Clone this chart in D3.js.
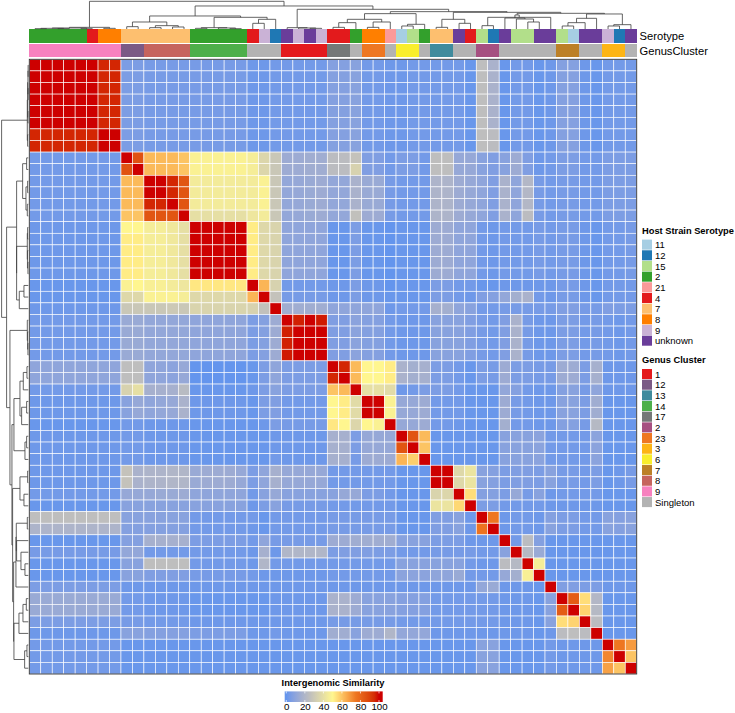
<!DOCTYPE html>
<html>
<head>
<meta charset="utf-8">
<script src="https://cdn.jsdelivr.net/npm/d3@7/dist/d3.min.js"></script>
<style>
html,body{margin:0;padding:0;background:#fff;}
text{font-family:"Liberation Sans",Arial,sans-serif;fill:#000;}
</style>
</head>
<body>
<svg id="chart" width="735" height="713"></svg>
<script>
// Host serotype and genus cluster of each phage, in dendrogram order
const serotypeOrder = ["11","12","15","2","21","4","7","8","9","unknown"];
const serotypeColors = ["#A6CEE3","#1F78B4","#B2DF8A","#33A02C","#FB9A99","#E31A1C","#FDBF6F","#FF7F00","#CAB2D6","#6A3D9A"];
const genusOrder = ["1","12","13","14","17","2","23","3","6","7","8","9","Singleton"];
const genusColors = ["#E41A1C","#7B5A85","#3F8B9D","#4DAF4A","#757878","#A65081","#EE7722","#FDB515","#F9EE2C","#BC8027","#C6645E","#F781BF","#B3B3B3"];

const serotypes = ["2","2","2","2","2","4","8","8",
  "7","7","7","7","7","7",
  "2","2","2","2","2","4","9","12",
  "unknown","9","unknown","9",
  "4","4","2","8","8","21","11","15","2",
  "7","7","unknown","4","15","12","unknown","15","15","unknown","unknown",
  "15","11","unknown","unknown","9","12","unknown"];
const genusClusters = ["9","9","9","9","9","9","9","9",
  "12","12","8","8","8","8",
  "14","14","14","14","14","Singleton","Singleton","Singleton",
  "1","1","1","1",
  "17","17","Singleton","23","23","Singleton","6","6","Singleton",
  "13","13","Singleton","Singleton","2","2","Singleton","Singleton","Singleton","Singleton","Singleton",
  "7","7","Singleton","Singleton","3","3","Singleton"];

// Pairwise intergenomic similarity (percent), one row per phage
const similarity = [
[100,100,100,100,100,100,96,96, 5,5, 4,4,4,4, 4,4,4,4,4, 2,2,3, 3,3,3,3, 7,7,8, 3,3,2, 2,3,3, 3,3, 3,1, 25,18, 1,3,3, 1,2, 7,7,2,1, 3,3,3],
[100,100,100,100,100,100,96,96, 5,5, 4,4,4,4, 4,4,4,4,4, 2,2,3, 3,3,3,3, 7,7,8, 3,3,2, 2,3,3, 3,3, 3,1, 25,18, 1,3,3, 1,2, 7,7,2,1, 3,3,3],
[100,100,100,100,100,100,96,96, 5,5, 4,4,4,4, 4,4,4,4,4, 2,2,3, 3,3,3,3, 7,7,8, 3,3,2, 2,3,3, 3,3, 3,1, 25,18, 1,3,3, 1,2, 7,7,2,1, 3,3,3],
[100,100,100,100,100,100,96,96, 5,5, 4,4,4,4, 4,4,4,4,4, 2,2,3, 3,3,3,3, 7,7,8, 3,3,2, 2,3,3, 3,3, 3,1, 25,18, 1,3,3, 1,2, 7,7,2,1, 3,3,3],
[100,100,100,100,100,100,96,96, 5,5, 4,4,4,4, 4,4,4,4,4, 2,2,3, 3,3,3,3, 7,7,8, 3,3,2, 2,3,3, 3,3, 3,1, 25,18, 1,3,3, 1,2, 7,7,2,1, 3,3,3],
[100,100,100,100,100,100,96,96, 5,5, 4,4,4,4, 4,4,4,4,4, 2,2,3, 3,3,3,3, 7,7,8, 3,3,2, 2,3,3, 3,3, 3,1, 25,18, 1,3,3, 1,2, 7,7,2,1, 3,3,3],
[96,96,96,96,96,96,100,100, 5,5, 4,4,4,4, 4,4,4,4,4, 2,2,3, 3,3,3,3, 7,7,8, 3,3,2, 2,3,3, 3,3, 3,1, 25,24, 1,3,3, 1,2, 7,7,2,1, 3,3,3],
[96,96,96,96,96,96,100,100, 5,5, 4,4,4,4, 4,4,4,4,4, 2,2,3, 3,3,3,3, 7,7,8, 3,3,2, 2,3,3, 3,3, 3,1, 25,24, 1,3,3, 1,2, 7,7,2,1, 3,3,3],
[3,3,3,3,3,3,3,3, 100,86, 62,62,62,60, 48,48,48,48,48, 46,36,29, 14,14,15,15, 24,24,27, 6,6,3, 5,5,3, 25,25, 12,12, 8,6, 8,14,6, 2,3, 5,5,3,3, 5,5,5],
[3,3,3,3,3,3,3,3, 86,100, 62,62,62,60, 48,48,48,48,48, 46,36,29, 14,14,15,15, 24,24,34, 6,6,3, 5,5,3, 25,25, 12,12, 8,6, 8,14,6, 2,3, 5,5,3,3, 5,5,5],
[3,3,3,3,3,3,3,3, 62,62, 100,100,96,85, 45,45,45,45,45, 45,48,29, 11,12,13,14, 11,11,18, 13,13,4, 3,3,3, 19,19, 14,12, 10,6, 18,10,21, 4,3, 4,4,3,3, 5,5,5],
[3,3,3,3,3,3,3,3, 62,62, 100,100,96,85, 45,45,45,45,45, 45,48,29, 11,12,13,14, 11,11,18, 13,13,4, 3,3,3, 19,19, 14,12, 10,6, 18,10,21, 4,3, 4,4,3,3, 5,5,5],
[3,3,3,3,3,3,3,3, 62,62, 96,96,100,85, 45,45,45,45,45, 45,48,29, 11,12,13,14, 11,11,18, 13,13,4, 3,3,3, 19,19, 14,12, 10,6, 18,10,21, 4,3, 4,4,3,3, 5,5,5],
[3,3,3,3,3,3,3,3, 60,60, 85,85,85,100, 40,40,40,40,40, 43,45,29, 11,12,13,14, 11,11,26, 14,14,4, 3,3,3, 19,19, 14,12, 10,6, 18,10,24, 4,3, 4,4,3,3, 5,5,5],
[2,2,2,2,2,2,2,2, 50,50, 46,46,44,40, 100,100,100,100,100, 52,37,35, 10,10,10,10, 1,1,5, 1,1,0, 1,1,1, 14,14, 10,10, 3,2, 3,3,3, 4,3, 4,4,2,1, 3,3,4],
[2,2,2,2,2,2,2,2, 52,52, 46,46,44,40, 100,100,100,100,100, 52,37,35, 10,10,10,10, 1,1,5, 1,1,0, 1,1,1, 14,14, 10,10, 3,2, 3,3,3, 4,3, 4,4,2,1, 3,3,4],
[2,2,2,2,2,2,2,2, 52,52, 46,46,44,40, 100,100,100,100,100, 52,37,35, 10,10,10,10, 1,1,5, 1,1,0, 1,1,1, 14,14, 10,10, 3,2, 3,3,3, 4,3, 4,4,2,1, 3,3,4],
[2,2,2,2,2,2,2,2, 52,52, 46,46,44,40, 100,100,100,100,100, 52,37,35, 10,10,10,10, 1,1,5, 1,1,0, 1,1,1, 14,14, 10,10, 3,2, 3,3,3, 4,3, 4,4,2,1, 3,3,4],
[2,2,2,2,2,2,2,2, 52,52, 46,46,44,40, 100,100,100,100,100, 52,37,35, 10,10,10,10, 1,1,5, 1,1,0, 1,1,1, 14,14, 10,10, 3,2, 3,3,3, 4,3, 4,4,2,1, 3,3,4],
[1,1,1,1,1,1,1,1, 48,50, 47,47,45,43, 53,53,53,53,53, 100,63,34, 3,3,3,3, 2,2,5, 2,2,0, 1,1,1, 5,5, 3,3, 1,1, 2,2,2, 2,2, 4,4,2,1, 3,3,3],
[1,1,1,1,1,1,1,1, 37,37, 48,48,48,46, 37,37,37,37,37, 63,100,27, 4,4,4,4, 2,2,5, 2,2,1, 1,1,1, 5,5, 3,2, 6,7, 11,16,18, 3,2, 4,4,2,1, 3,3,3],
[2,2,2,2,2,2,2,2, 29,29, 29,29,30,29, 35,35,35,35,35, 34,26,100, 15,15,15,15, 10,10,10, 10,10,2, 3,3,3, 17,16, 10,8, 3,3, 4,4,4, 4,4, 6,6,4,4, 6,5,5],
[3,3,3,3,3,3,3,3, 13,13, 11,11,11,11, 10,10,10,10,10, 5,7,14, 100,97,100,98, 6,6,9, 7,7,3, 2,2,2, 8,8, 8,6, 4,3, 6,18,4, 2,2, 5,5,3,4, 3,2,3],
[3,3,3,3,3,3,3,3, 13,13, 11,11,11,11, 10,10,10,10,10, 5,7,14, 97,100,100,100, 6,6,9, 7,7,3, 2,2,2, 8,8, 8,6, 4,3, 6,18,4, 2,2, 5,5,3,4, 3,2,3],
[3,3,3,3,3,3,3,3, 13,13, 11,11,11,11, 10,10,10,10,10, 5,7,14, 97,100,100,100, 6,6,9, 7,7,3, 2,2,2, 8,8, 8,6, 4,3, 6,18,4, 2,2, 5,5,3,4, 3,2,3],
[3,3,3,3,3,3,3,3, 13,13, 11,11,11,11, 10,10,10,10,10, 5,7,14, 98,100,100,100, 6,6,9, 7,7,3, 2,2,2, 8,8, 8,6, 4,3, 6,18,4, 2,2, 5,5,3,4, 3,2,3],
[10,10,10,10,10,10,10,10, 25,25, 10,10,9,12, 0,0,0,0,0, 1,5,10, 5,5,5,5, 100,96,62, 50,50,52, 18,16,17, 5,5, 3,1, 5,4, 14,5,5, 4,4, 14,14,5,17, 2,2,2],
[10,10,10,10,10,10,10,10, 25,25, 10,10,9,12, 0,0,0,0,0, 1,5,10, 5,5,5,5, 96,100,62, 50,50,52, 18,16,17, 5,5, 3,1, 5,4, 14,5,5, 4,4, 14,14,5,17, 2,2,2],
[3,3,3,3,3,3,3,3, 34,40, 17,17,17,23, 1,1,1,1,1, 2,5,8, 5,5,5,5, 60,62,100, 40,40,38, 2,3,5, 5,5, 3,1, 1,1, 11,7,3, 2,2, 7,8,4,10, 2,2,2],
[2,2,2,2,2,2,2,2, 8,12, 10,11,12,18, 2,2,2,2,2, 1,5,6, 3,3,3,3, 50,52,38, 100,100,48, 12,12,14, 3,3, 3,1, 1,1, 14,4,3, 2,2, 8,8,5,15, 1,1,1],
[2,2,2,2,2,2,2,2, 8,12, 10,11,12,18, 2,2,2,2,2, 1,5,6, 3,3,3,3, 50,52,38, 100,100,48, 12,12,14, 3,3, 3,1, 1,1, 14,4,3, 2,2, 8,8,5,15, 1,1,1],
[1,1,1,1,1,1,1,1, 3,3, 2,2,2,2, 1,1,1,1,1, 1,2,5, 4,4,4,4, 53,50,36, 50,48,100, 12,12,14, 3,3, 2,1, 1,1, 16,3,3, 2,2, 7,7,4,22, 1,1,1],
[2,2,2,2,2,2,2,2, 3,3, 2,2,2,2, 1,1,1,1,1, 1,1,2, 2,2,2,2, 17,17,5, 12,12,12, 100,85,62, 1,1, 1,1, 1,1, 8,8,8, 9,3, 3,3,3,9, 1,1,1],
[2,2,2,2,2,2,2,2, 3,3, 2,2,2,2, 1,1,1,1,1, 1,1,2, 2,2,2,2, 17,17,5, 12,12,12, 85,100,60, 1,1, 1,1, 1,1, 8,8,8, 9,3, 3,3,3,9, 1,1,1],
[2,2,2,2,2,2,2,2, 3,3, 2,2,2,2, 1,1,1,1,1, 1,1,3, 2,2,2,2, 17,17,4, 14,14,14, 63,58,100, 1,1, 1,1, 1,1, 8,8,8, 9,3, 3,3,3,9, 1,1,1],
[2,2,2,2,2,2,2,2, 27,18, 19,19,20,20, 13,14,14,14,12, 5,10,17, 12,12,12,12, 3,3,3, 3,3,3, 1,1,1, 100,100, 37,42, 8,7, 5,6,6, 5,8, 4,4,3,5, 1,2,4],
[2,2,2,2,2,2,2,2, 27,18, 19,19,20,20, 13,14,14,14,12, 5,10,17, 12,12,12,12, 3,3,3, 3,3,3, 1,1,1, 100,100, 37,42, 8,7, 5,6,6, 5,8, 4,4,3,5, 1,2,4],
[3,3,3,3,3,3,3,3, 12,12, 12,13,13,14, 10,10,10,10,10, 3,8,12, 8,8,8,8, 8,12,12, 5,5,3, 1,1,1, 35,36, 100,55, 7,7, 5,12,4, 8,2, 3,3,3,3, 1,1,1],
[1,1,1,1,1,1,1,1, 8,8, 8,8,8,8, 8,8,8,8,8, 2,5,8, 4,4,4,4, 3,3,3, 3,3,3, 1,1,1, 42,42, 56,100, 5,5, 3,3,3, 3,2, 2,2,2,2, 1,1,1],
[25,25,25,25,25,25,25,25, 8,8, 8,8,8,8, 3,3,3,3,3, 3,1,3, 3,3,3,3, 4,4,4, 4,4,4, 1,1,1, 6,6, 8,2, 100,75, 2,3,3, 2,7, 5,5,3,3, 8,7,8],
[19,19,19,19,19,19,19,19, 7,7, 7,7,7,7, 3,3,3,3,3, 2,1,3, 3,3,3,3, 4,4,4, 4,4,4, 1,1,1, 6,6, 8,2, 76,100, 2,3,3, 2,8, 5,5,3,3, 8,7,8],
[1,1,1,1,1,1,1,1, 7,7, 17,17,17,17, 5,5,5,5,5, 3,10,4, 4,4,4,4, 14,14,15, 15,15,15, 8,8,8, 5,5, 5,2, 2,2, 100,3,24, 7,1, 1,1,1,1, 1,1,1],
[4,4,4,4,4,4,4,4, 11,11, 3,3,3,3, 3,3,3,3,3, 2,17,2, 20,20,20,20, 5,6,6, 6,5,5, 3,3,3, 4,4, 4,4, 3,3, 8,100,22, 13,1, 1,1,1,1, 1,1,1],
[1,1,1,1,1,1,1,1, 8,8, 25,25,25,25, 3,3,3,3,3, 2,20,3, 3,3,3,3, 3,3,3, 3,3,3, 8,8,8, 8,8, 8,3, 2,2, 24,22,100, 46,1, 1,1,1,1, 1,1,1],
[1,1,1,1,1,1,1,1, 8,8, 6,6,6,6, 4,4,4,4,4, 3,2,2, 2,2,2,2, 3,3,3, 3,3,3, 9,9,9, 10,10, 13,3, 3,3, 12,16,47, 100,1, 1,1,1,1, 1,1,1],
[5,5,5,5,5,5,5,5, 2,2, 2,2,2,2, 2,2,2,2,2, 2,2,2, 2,2,2,2, 2,2,2, 2,2,2, 2,2,2, 2,2, 2,2, 11,13, 2,2,2, 1,100, 6,6,5,5, 2,2,2],
[13,13,13,13,13,13,13,13, 3,3, 2,2,2,2, 1,1,1,1,1, 1,1,2, 2,2,2,2, 18,18,14, 8,8,8, 7,7,7, 3,3, 3,3, 3,3, 2,2,2, 1,8, 100,83,55,21, 1,1,1],
[13,13,13,13,13,13,13,13, 3,3, 2,2,2,2, 1,1,1,1,1, 1,1,2, 2,2,2,2, 18,18,14, 8,8,8, 7,7,7, 3,3, 3,3, 3,3, 2,2,2, 1,8, 83,100,57,22, 1,1,1],
[5,5,5,5,5,5,5,5, 4,4, 3,3,3,3, 2,2,2,2,2, 2,2,2, 2,2,2,2, 4,4,4, 4,4,4, 3,3,3, 3,3, 3,3, 3,3, 2,2,2, 1,8, 55,57,100,24, 1,1,1],
[2,2,2,2,2,2,2,2, 8,8, 7,7,7,7, 5,5,5,5,5, 2,2,3, 2,2,2,2, 15,15,8, 14,14,20, 11,11,11, 2,2, 2,2, 2,2, 2,2,2, 1,2, 24,25,24,100, 1,1,1],
[3,3,3,3,3,3,3,3, 1,1, 1,1,1,1, 1,1,1,1,1, 1,1,1, 1,1,1,1, 1,1,1, 1,1,1, 1,1,1, 1,1, 1,1, 8,8, 1,1,1, 1,3, 2,2,2,2, 100,75,68],
[3,3,3,3,3,3,3,3, 1,1, 1,1,1,1, 1,1,1,1,1, 1,1,1, 1,1,1,1, 1,1,1, 1,1,1, 1,1,1, 1,1, 1,1, 8,8, 1,1,1, 1,3, 2,2,2,2, 72,100,60],
[3,3,3,3,3,3,3,3, 1,1, 1,1,1,1, 1,1,1,1,1, 1,1,1, 1,1,1,1, 1,1,1, 1,1,1, 1,1,1, 1,1, 1,1, 8,8, 1,1,1, 1,3, 2,2,2,2, 67,60,100]
];

// Clustering trees: [merge height, left, right]; a bare number is a leaf
const columnTree = [83,
  [5,[3,[2,[1,0,1],[1,2,3]],[1,4,5]],[2,6,7]],
  [69,
    [39,
      [21,[7,8,9],[10,[4,10,11],[6,12,13]]],
      [35,[4,[2,14,15],[3,16,[1,17,18]]],[29,[17,19,20],21]]],
    [59,
      [4,22,[3,23,[2,24,25]]],
      [52,
        [46,[29,[19,[5,26,27],28],[21,[5,29,30],31]],[14,[9,32,33],34]],
        [50,
          [29,[5,35,36],[17,37,38]],
          [47,
            [42,[33,41,[30,42,[21,43,44]]],[35,[10,39,40],45]],
            [45,[32,[19,[9,46,47],48],49],[13,[9,50,51],52]]]]]]]];

const rowTree = [80,
  [3,[2,[1,[0.5,0,1],[0.5,2,3]],[1,4,5]],[2,6,7]],
  [65,
    [35,
      [17,[5,8,9],[7,[2,10,11],[3,12,13]]],
      [35,[3,[2,14,15],[2.5,16,[1,17,18]]],[27,[13,19,20],21]]],
    [55,
      [3,22,[2,23,[1,24,25]]],
      [49,
        [43,[25,[15,[4,26,27],28],[20,[5,29,30],31]],[10,[5,32,33],34]],
        [47,
          [25,[2,35,36],[13,37,38]],
          [44,
            [37,[36,[3,39,40],[35,41,[22,42,[10,43,44]]]],45],
            [43,[28,[16,[6,46,47],48],49],[11,[4,50,51],52]]]]]]]];

// Colour ramp and legend ticks
const rampStops = [0,25,50,75,100];
const rampColors = ["#6495ED","#BEBEBE","#FFF68F","#EE7621","#CD0000"];
const barTicks = [0,20,40,60,80,100];

const svg = d3.select("#chart");
const indices = d3.range(similarity.length);
const x = d3.scaleBand().domain(indices).range([29.3,636.7]);
const y = d3.scaleBand().domain(indices).range([59.3,674]);
const color = d3.scaleLinear().domain(rampStops).range(rampColors).interpolate(d3.interpolateLab).clamp(true);
const serotypeColor = d3.scaleOrdinal(serotypeOrder, serotypeColors);
const genusColor = d3.scaleOrdinal(genusOrder, genusColors);

// Heat map cells
const cells = similarity.flatMap((row,r)=>row.map((v,c)=>({r,c,v})));
svg.append("g").selectAll("rect").data(cells).join("rect")
  .attr("x",d=>x(d.c)).attr("y",d=>y(d.r))
  .attr("width",x.bandwidth()).attr("height",y.bandwidth())
  .attr("fill",d=>color(d.v))
  .attr("stroke","#fff").attr("stroke-width",0.6);
svg.append("rect").attr("x",29.3).attr("y",59.3).attr("width",607.4).attr("height",614.7)
  .attr("fill","none").attr("stroke","#333").attr("stroke-width",0.9);

// Column annotation tracks
const trackY = d3.scaleOrdinal(["Serotype","GenusCluster"],[29.3,44]);
const trackHeight = 13.2;
svg.append("g").attr("shape-rendering","crispEdges").selectAll("rect").data(serotypes).join("rect")
  .attr("x",(d,i)=>x(i)).attr("y",trackY("Serotype"))
  .attr("width",x.bandwidth()+0.5).attr("height",trackHeight).attr("fill",d=>serotypeColor(d));
svg.append("g").attr("shape-rendering","crispEdges").selectAll("rect").data(genusClusters).join("rect")
  .attr("x",(d,i)=>x(i)).attr("y",trackY("GenusCluster"))
  .attr("width",x.bandwidth()+0.5).attr("height",trackHeight).attr("fill",d=>genusColor(d));
svg.append("g").selectAll("text").data(trackY.domain()).join("text")
  .attr("x",639.5).attr("y",d=>trackY(d)+trackHeight/2)
  .attr("dy","0.36em").attr("font-size",11.2).attr("fill","#222").text(d=>d);

// Dendrograms: a node sits midway between its children
function layoutTree(tree, leafPos){
  const root = d3.hierarchy(tree, d=>Array.isArray(d)?d.slice(1):null);
  root.eachAfter(n=>{
    if(n.children){
      n.pos = d3.mean(n.children,c=>c.pos);
      n.merge = n.data[0];
    } else {
      n.pos = leafPos(n.data);
      n.merge = 0;
    }
  });
  return root;
}
const dendroLine = {fill:"none",stroke:"#3d3d3d","stroke-width":0.8};
function drawTree(root, toPath){
  const g = svg.append("g");
  Object.entries(dendroLine).forEach(([k,v])=>g.attr(k,v));
  g.selectAll("path").data(root.descendants().filter(n=>n.children)).join("path").attr("d",toPath);
}
const topHeight = d3.scaleLinear().domain([0,83]).range([29,1.3]);
drawTree(layoutTree(columnTree,i=>x(i)+x.bandwidth()/2), n=>{
  const [a,b]=n.children;
  return `M${a.pos},${topHeight(a.merge)}V${topHeight(n.merge)}H${b.pos}V${topHeight(b.merge)}`;
});
const leftHeight = d3.scaleLinear().domain([0,80]).range([28.3,1.6]);
drawTree(layoutTree(rowTree,i=>y(i)+y.bandwidth()/2), n=>{
  const [a,b]=n.children;
  return `M${leftHeight(a.merge)},${a.pos}H${leftHeight(n.merge)}V${b.pos}H${leftHeight(b.merge)}`;
});

// Discrete legends
function discreteLegend(title, titleY, firstY, labels, colorOf){
  svg.append("text").attr("x",642).attr("y",titleY).attr("dy","0.36em")
    .attr("font-size",9.3).attr("font-weight","bold").text(title);
  const step = 10.67;
  const g = svg.append("g").selectAll("g").data(labels).join("g")
    .attr("transform",(d,i)=>`translate(642,${firstY+i*step})`);
  g.append("rect").attr("width",10).attr("height",step-0.6).attr("fill",d=>colorOf(d));
  g.append("text").attr("x",13).attr("y",step/2).attr("dy","0.36em").attr("font-size",9.5).attr("fill","#111").text(d=>d);
}
discreteLegend("Host Strain Serotype",230.7,239.6,serotypeOrder,serotypeColor);
discreteLegend("Genus Cluster",360,369,genusOrder,genusColor);

// Continuous colour bar
const barX = d3.scaleLinear().domain([0,100]).range([286.3,379]);
const grad = svg.append("defs").append("linearGradient").attr("id","similarityRamp");
const barLeft = 284.7, barRight = 382.7;
d3.range(0,101,5).forEach(v=>{
  grad.append("stop").attr("offset",(barX(v)-barLeft)/(barRight-barLeft)).attr("stop-color",color(v));
});
svg.append("rect").attr("x",barLeft).attr("y",691.4).attr("width",barRight-barLeft).attr("height",10.6)
  .attr("fill","url(#similarityRamp)");
const barAxis = svg.append("g").attr("transform","translate(0,702)")
  .call(d3.axisBottom(barX).tickValues(barTicks).tickSize(0).tickPadding(1.5).tickFormat(d3.format("d")));
barAxis.select(".domain").remove();
barAxis.selectAll("text").attr("font-size",9.7).attr("font-family",null).attr("fill","#111");
svg.append("g").selectAll("path").data(barTicks).join("path")
  .attr("d",d=>`M${barX(d)},691.4v2M${barX(d)},702v-2`)
  .attr("stroke","#fff").attr("stroke-width",0.7);
svg.append("text").attr("x",333).attr("y",683).attr("dy","0.36em").attr("text-anchor","middle")
  .attr("font-size",9.3).attr("font-weight","bold").text("Intergenomic Similarity");
</script>
</body>
</html>
